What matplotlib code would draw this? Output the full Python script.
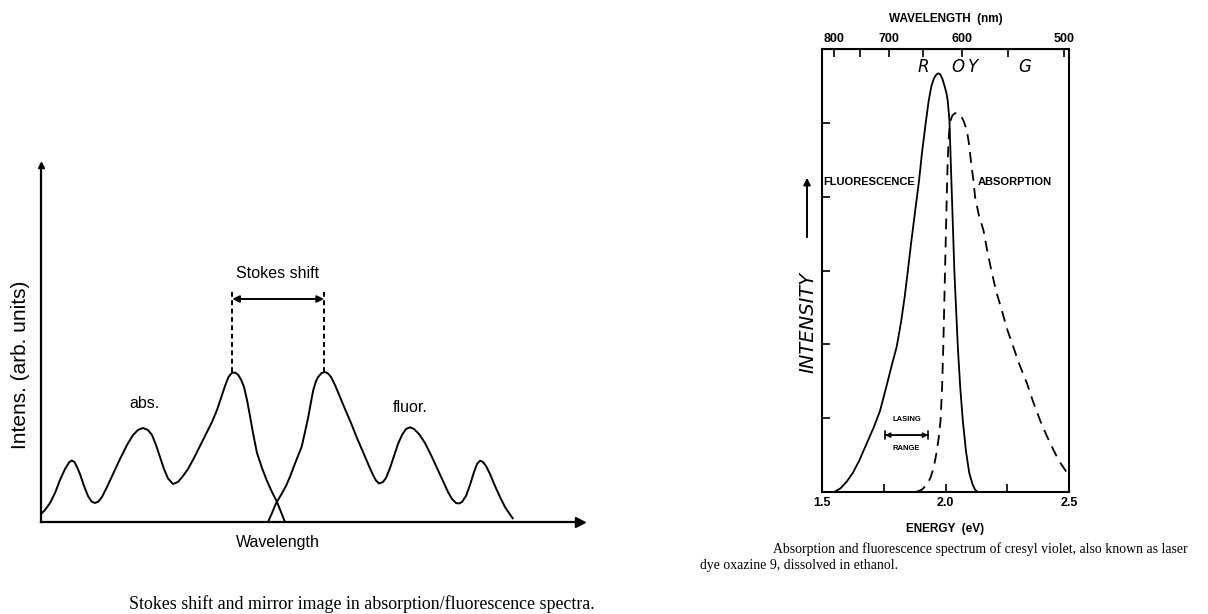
import numpy as np
import matplotlib
matplotlib.use("Agg")
import matplotlib.pyplot as plt

# ---- left panel: schematic mirror-image spectra (arb. units)
abs_x = [0, 4, 9, 14, 19, 24, 28, 30.7, 33.5, 36, 39, 43, 47, 50.5, 54, 57.5, 61, 66,
         72, 79, 86, 92, 97, 102, 107, 111, 115, 119, 123, 127, 132, 137, 142, 147,
         153, 159, 165, 171, 176, 180, 184, 187.5, 190.7, 194, 197.3, 200, 203, 206,
         209, 212, 216, 221, 226, 231, 236, 240, 244]
abs_y = [8, 12, 19, 29, 42, 53, 59.5, 61.5, 60, 55, 48, 36, 26, 20.5, 19, 20.5, 25, 35,
         48, 63, 77, 87, 92, 94, 92, 87, 77, 65, 53, 43.5, 38, 40, 46, 53,
         64, 76, 88, 100, 112, 124, 136, 145, 149, 149.5, 147, 142.5, 135, 122,
         106, 89, 69, 54, 41, 30, 20, 10, 0]
fl_x = [227, 231, 235, 240, 245, 249, 255, 260.7, 264, 267.3, 270, 272.3, 275, 277.3,
        280.7, 284, 287, 290, 294, 299, 304, 310, 316, 322, 328, 332, 335, 338, 342,
        345, 349, 353, 357, 361, 365, 369, 373, 378, 384, 390, 396, 402, 407, 411,
        415, 418, 421, 425, 429, 433, 436, 439, 442, 445, 449, 454, 459, 464, 468,
        471.7]
fl_y = [0, 9, 18.7, 27, 36, 45.3, 61, 75.3, 90, 105.3, 120, 132, 141, 145.3,
        149, 150, 148.5, 145, 137, 125, 113, 99, 84, 70, 56, 47, 41.5, 38.5, 40,
        44, 54, 66, 78, 87, 93, 94.7, 93, 88, 79, 67, 54, 41, 30, 23,
        19, 18.5, 20, 26, 37, 50, 58, 61.3, 60, 56, 48, 36, 25, 15, 9,
        3.7]
stokes_abs_peak = 191.3
stokes_fl_peak = 283

# ---- right panel: cresyl violet spectra (energy in eV, intensity 0..6)
fluo_E = [1.50, 1.55, 1.575, 1.60, 1.625, 1.65, 1.68, 1.71, 1.735, 1.76, 1.785, 1.802,
          1.82, 1.835, 1.847, 1.86, 1.875, 1.893, 1.905, 1.92, 1.932, 1.943, 1.953,
          1.962, 1.97, 1.978, 1.987, 1.996, 2.004, 2.009, 2.016, 2.022, 2.027, 2.036,
          2.05, 2.06, 2.07, 2.083, 2.096, 2.11, 2.12, 2.13, 2.5]
fluo_I = [0, 0, 0.05, 0.14, 0.26, 0.42, 0.65, 0.88, 1.1, 1.42, 1.75, 1.96,
          2.3, 2.65, 2.98, 3.35, 3.75, 4.22, 4.6, 5.0, 5.3, 5.5, 5.6,
          5.65, 5.67, 5.66, 5.6, 5.5, 5.4, 5.3, 5.03, 4.4, 3.9, 2.98,
          1.96, 1.4, 0.97, 0.55, 0.26, 0.1, 0.03, 0, 0]
abso_E = [1.88, 1.904, 1.925, 1.94, 1.952, 1.962, 1.972, 1.98, 1.986, 1.991, 1.998,
          2.005, 2.009, 2.014, 2.02, 2.028, 2.038, 2.05, 2.062, 2.074, 2.086, 2.095,
          2.104, 2.113, 2.12, 2.135, 2.154, 2.17, 2.187, 2.205, 2.228, 2.25, 2.275,
          2.30, 2.33, 2.355, 2.383, 2.41, 2.437, 2.46, 2.484, 2.5]
abso_I = [0, 0.03, 0.1, 0.2, 0.33, 0.5, 0.72, 0.97, 1.4, 1.96, 2.98,
          3.99, 4.5, 4.85, 5.03, 5.1, 5.13, 5.13, 5.1, 5.02, 4.9, 4.72,
          4.45, 4.22, 3.99, 3.75, 3.54, 3.25, 2.98, 2.72, 2.46, 2.2, 1.96,
          1.72, 1.47, 1.22, 0.97, 0.76, 0.57, 0.42, 0.3, 0.22]
wl_major = [800, 700, 600, 500]
wl_minor = [750, 650, 550]
colour_bands = ["R", "O", "Y", "G"]
band_E = [1.91, 2.05, 2.11, 2.32]
lasing_range = [1.755, 1.93]

W, H = 1208, 614
fig = plt.figure(figsize=(W / 100, H / 100), dpi=100)
fig.patch.set_facecolor("white")

def fbox(x0, y0, x1, y1):
    # pixel box -> figure fraction rect
    return [x0 / W, 1 - y1 / H, (x1 - x0) / W, (y1 - y0) / H]

sans = "Liberation Sans"
serif = "Liberation Serif"

# ===== left panel =====
ax = fig.add_axes(fbox(41, 165, 580, 522))
ax.plot(abs_x, abs_y, color="black", lw=1.4, solid_joinstyle="round")
ax.plot(fl_x, fl_y, color="black", lw=1.4, solid_joinstyle="round")
ax.set_xlim(0, 539)
ax.set_ylim(0, 357)
for s in ["top", "right"]:
    ax.spines[s].set_visible(False)
for s in ["left", "bottom"]:
    ax.spines[s].set_linewidth(1.6)
ax.set_xticks([])
ax.set_yticks([])
ax.plot(1, 0, ">k", ms=7, transform=ax.transAxes, clip_on=False)
ax.plot(0, 1, "^k", ms=5, transform=ax.transAxes, clip_on=False)

# stokes shift marker
for xp in [stokes_abs_peak, stokes_fl_peak]:
    ax.plot([xp, xp], [150, 232], color="black", lw=1.4, ls=(0, (2.5, 1.8)))
ax.annotate("", xy=(stokes_abs_peak, 223), xytext=(stokes_fl_peak, 223),
            arrowprops=dict(arrowstyle="<|-|>", color="black", lw=1.4,
                            mutation_scale=10, shrinkA=0, shrinkB=0))
ax.text(237, 249, "Stokes shift", ha="center", va="center", fontsize=11.5, family=sans)
ax.text(104, 119, "abs.", ha="center", va="center", fontsize=11.5, family=sans)
ax.text(369, 114, "fluor.", ha="center", va="center", fontsize=11.5, family=sans)
fig.text(21 / W, 1 - 365 / H, "Intens. (arb. units)", rotation=90, ha="center",
         va="center", fontsize=15, family=sans)
fig.text(278 / W, 1 - 543 / H, "Wavelength", ha="center", va="center",
         fontsize=11.5, family=sans)
fig.text(129 / W, 1 - 604 / H,
         "Stokes shift and mirror image in absorption/fluorescence spectra.",
         ha="left", va="center", fontsize=12.9, family=serif)

# ===== right panel =====
ax2 = fig.add_axes(fbox(822, 49, 1069, 492))
ax2.plot(fluo_E, fluo_I, color="black", lw=1.3)
ax2.plot(abso_E, abso_I, color="black", lw=1.3, ls=(0, (6, 4)))
ax2.set_xlim(1.5, 2.5)
ax2.set_ylim(0, 6)
for s in ax2.spines.values():
    s.set_linewidth(1.5)
ax2.set_xticks([1.5, 2.0, 2.5])
ax2.set_xticklabels(["1.5", "2.0", "2.5"])
ax2.set_xticks([1.75, 2.25], minor=True)
ax2.set_yticks([1, 2, 3, 4, 5])
ax2.set_yticklabels([])
ax2.tick_params(axis="both", which="both", direction="in", length=6, width=1.2,
                labelsize=9)
ax2.tick_params(axis="y", right=False)
for lab in ax2.get_xticklabels():
    lab.set_family(sans)
    lab.set_fontweight("bold")
ax2.set_xlabel("ENERGY  (eV)", fontsize=8.5, family=sans, fontweight="bold",
               labelpad=10)

top = ax2.secondary_xaxis("top", functions=(lambda e: 1239.84 / np.maximum(e, 1e-3),
                                            lambda l: 1239.84 / np.maximum(l, 1e-3)))
top.set_xticks(wl_major)
top.set_xticks(wl_minor, minor=True)
top.tick_params(axis="x", which="both", direction="in", length=6, width=1.2,
                labelsize=9, pad=3)
for lab in top.get_xticklabels():
    lab.set_family(sans)
    lab.set_fontweight("bold")
top.set_xlabel("WAVELENGTH  (nm)", fontsize=8.5, family=sans, fontweight="bold",
               labelpad=8)

for b, e in zip(colour_bands, band_E):
    ax2.text(e, 5.76, b, ha="center", va="center", fontsize=12, style="italic",
             family="DejaVu Sans")
ax2.text(1.505, 4.2, "FLUORESCENCE", ha="left", va="center", fontsize=8,
         family=sans, fontweight="bold")
ax2.text(2.13, 4.2, "ABSORPTION", ha="left", va="center", fontsize=8,
         family=sans, fontweight="bold")
ax2.annotate("", xy=(lasing_range[0], 0.77), xytext=(lasing_range[1], 0.77),
             arrowprops=dict(arrowstyle="|-|", color="black", lw=1.2,
                             mutation_scale=3, shrinkA=0, shrinkB=0))
ax2.annotate("", xy=(lasing_range[0], 0.77), xytext=(lasing_range[1], 0.77),
             arrowprops=dict(arrowstyle="<|-|>", color="black", lw=1.2,
                             mutation_scale=7, shrinkA=0, shrinkB=0))
mid = sum(lasing_range) / 2
ax2.text(mid, 0.98, "LASING", ha="center", va="center", fontsize=5.5,
         family=sans, fontweight="bold")
ax2.text(mid, 0.59, "RANGE", ha="center", va="center", fontsize=5.5,
         family=sans, fontweight="bold")

fig.text(808 / W, 1 - 322 / H, "INTENSITY", rotation=90, ha="center", va="center",
         fontsize=14, style="italic", family="DejaVu Sans")
fig.add_artist(matplotlib.patches.FancyArrowPatch(
    (807 / W, 1 - 240 / H), (807 / W, 1 - 175 / H), transform=fig.transFigure,
    arrowstyle="-|>", mutation_scale=10, color="black", lw=1.4))

fig.text(773 / W, 1 - 549 / H,
         "Absorption and fluorescence spectrum of cresyl violet, also known as laser",
         ha="left", va="center", fontsize=9.9, family=serif)
fig.text(700 / W, 1 - 566 / H, "dye oxazine 9, dissolved in ethanol.",
         ha="left", va="center", fontsize=9.9, family=serif)

fig.savefig("out.png", dpi=100, facecolor="white")
